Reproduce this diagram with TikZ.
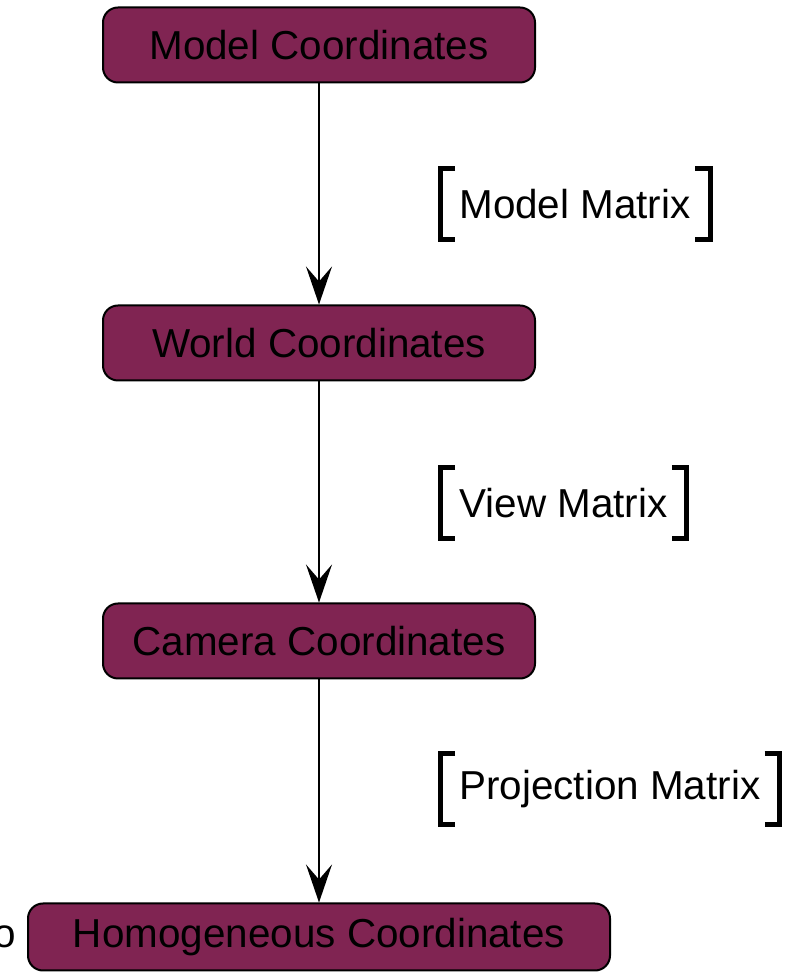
\documentclass[tikz,border=0pt]{standalone}
\usepackage{fontspec}
\setmainfont{Liberation Sans}
\usetikzlibrary{arrows.meta}
\definecolor{boxfill}{RGB}{128,36,82}
\begin{document}
\begin{tikzpicture}[
    coordbox/.style={draw=black, line width=0.040000cm, fill=boxfill, rounded corners=0.300000cm, minimum width=8.640000cm, minimum height=1.500000cm, inner sep=0cm},
    matrixlabel/.style={anchor=west, inner xsep=0.380000cm, inner ysep=0cm, minimum height=1.400000cm},
    bracketline/.style={line width=0.100000cm},
    steparrow/.style={line width=0.040000cm, -{Stealth[length=0.760000cm, width=0.520000cm, inset=0.300000cm]}}
]
                \useasboundingbox (0.000000,0.000000) rectangle (16.020000,19.480000);
                {\fontsize{23}{27}\selectfont

                % Marking box Model Coordinates
                \node [coordbox] (model) at (6.380000,18.580000) { Model Coordinates };%

                % Marking box World Coordinates
                \node [coordbox] (world) at (6.380000,12.620000) { World Coordinates };%

                % Marking box Camera Coordinates
                \node [coordbox] (camera) at (6.380000,6.660000) { Camera Coordinates };%

                % Marking box Homogeneous Coordinates
                \node [coordbox, minimum width=11.640000cm, minimum height=1.340000cm] (homog) at (6.380000,0.740000) { Homogeneous Coordinates };%

                % Marking cut letter at the left border
                \node [anchor=base east, inner sep=0cm] (cut) at ([xshift=-0.220000cm]homog.base west) { o };%

                % Drawing arrows between boxes
                \draw [steparrow] (model) -- (world);%
                \draw [steparrow] (world) -- (camera);%
                \draw [steparrow] (camera) -- (homog);%

                % Marking label Model Matrix
                \node [matrixlabel] (modelmat) at (8.800000,15.400000) { Model Matrix };%
                \draw [bracketline] ([xshift=0.300000cm]modelmat.north west) -- (modelmat.north west) -- (modelmat.south west) -- ([xshift=0.300000cm]modelmat.south west);%
                \draw [bracketline] ([xshift=-0.300000cm]modelmat.north east) -- (modelmat.north east) -- (modelmat.south east) -- ([xshift=-0.300000cm]modelmat.south east);%

                % Marking label View Matrix
                \node [matrixlabel] (viewmat) at (8.800000,9.420000) { View Matrix\ };%
                \draw [bracketline] ([xshift=0.300000cm]viewmat.north west) -- (viewmat.north west) -- (viewmat.south west) -- ([xshift=0.300000cm]viewmat.south west);%
                \draw [bracketline] ([xshift=-0.300000cm]viewmat.north east) -- (viewmat.north east) -- (viewmat.south east) -- ([xshift=-0.300000cm]viewmat.south east);%

                % Marking label Projection Matrix
                \node [matrixlabel] (projmat) at (8.800000,3.700000) { Projection Matrix };%
                \draw [bracketline] ([xshift=0.300000cm]projmat.north west) -- (projmat.north west) -- (projmat.south west) -- ([xshift=0.300000cm]projmat.south west);%
                \draw [bracketline] ([xshift=-0.300000cm]projmat.north east) -- (projmat.north east) -- (projmat.south east) -- ([xshift=-0.300000cm]projmat.south east);%
                }
\end{tikzpicture}
\end{document}
